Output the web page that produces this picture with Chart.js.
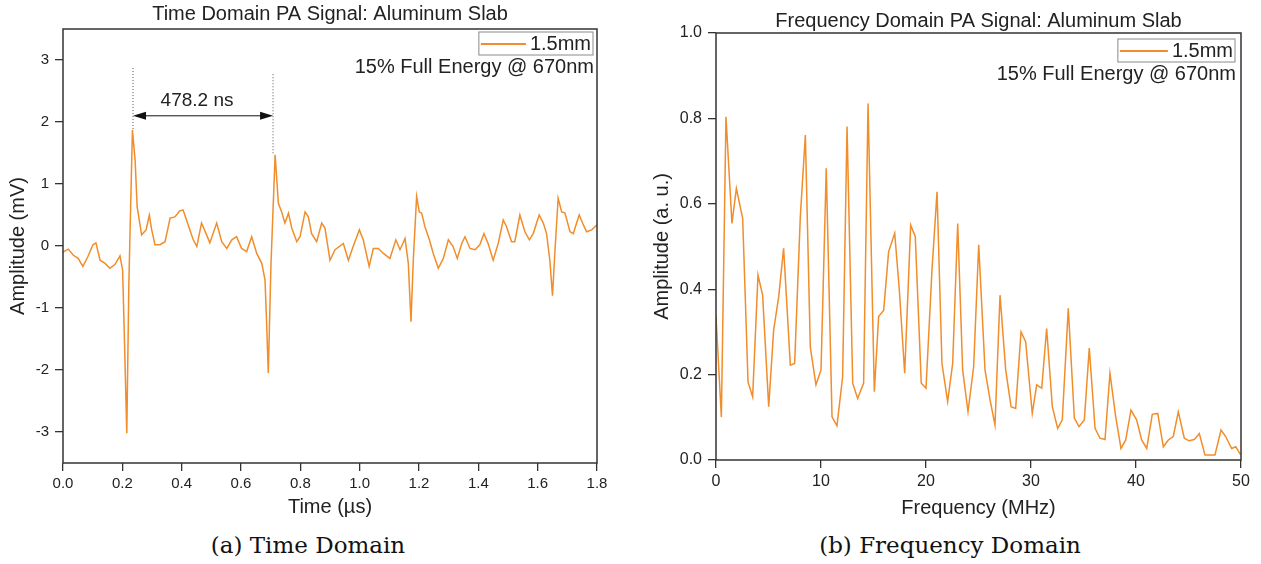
<!DOCTYPE html>
<html>
<head>
<meta charset="utf-8">
<script src="https://cdn.jsdelivr.net/npm/chart.js@4.4.2/dist/chart.umd.min.js"></script>
<style>
  body { margin: 0; background: #fff; }
  #page { position: relative; width: 1261px; height: 564px; overflow: hidden; }
  .panel { position: absolute; top: 0; }
  .caption {
    position: absolute; top: 530px; width: 400px; text-align: center;
    font: 23px "DejaVu Serif", "Liberation Serif", serif; color: #111; line-height: 30px;
  }
</style>
</head>
<body>
<div id="page">
  <div class="panel" style="left:0;width:630px;height:525px"><canvas id="timeChart" width="630" height="525"></canvas></div>
  <div class="panel" style="left:640px;width:621px;height:525px"><canvas id="freqChart" width="621" height="525"></canvas></div>
  <div class="caption" style="left:108px">(a) Time Domain</div>
  <div class="caption" style="left:750px">(b) Frequency Domain</div>
</div>
<script>
// time domain trace (µs, mV)
const timeUs = [
  0.000, 0.018, 0.035, 0.051, 0.067, 0.084, 0.101, 0.111, 0.125, 0.142,
  0.158, 0.175, 0.192, 0.201, 0.207, 0.215, 0.222, 0.234, 0.243, 0.250,
  0.265, 0.280, 0.291, 0.299, 0.310, 0.327, 0.344, 0.361, 0.377, 0.394,
  0.405, 0.422, 0.439, 0.451, 0.467, 0.484, 0.495, 0.518, 0.535, 0.552,
  0.569, 0.585, 0.602, 0.619, 0.636, 0.653, 0.670, 0.681, 0.686, 0.692,
  0.701, 0.715, 0.726, 0.737, 0.748, 0.760, 0.771, 0.788, 0.799, 0.816,
  0.827, 0.838, 0.855, 0.872, 0.883, 0.900, 0.917, 0.945, 0.962, 0.978,
  0.999, 1.012, 1.032, 1.046, 1.063, 1.080, 1.102, 1.122, 1.136, 1.153,
  1.164, 1.173, 1.181, 1.192, 1.201, 1.209, 1.220, 1.235, 1.248, 1.265,
  1.282, 1.299, 1.315, 1.329, 1.344, 1.355, 1.372, 1.389, 1.405, 1.419,
  1.433, 1.450, 1.467, 1.484, 1.495, 1.512, 1.523, 1.540, 1.557, 1.572,
  1.585, 1.605, 1.619, 1.630, 1.641, 1.650, 1.658, 1.669, 1.681, 1.692,
  1.709, 1.720, 1.740, 1.754, 1.765, 1.782, 1.793, 1.800
];
const amplitudeMv = [
  -0.10, -0.05, -0.15, -0.20, -0.33, -0.17, 0.02, 0.05, -0.23, -0.28,
  -0.36, -0.30, -0.16, -0.39, -1.50, -3.02, -0.60, 1.87, 1.39, 0.63,
  0.18, 0.26, 0.50, 0.26, 0.02, 0.02, 0.07, 0.45, 0.47, 0.57,
  0.58, 0.34, 0.10, -0.01, 0.37, 0.18, 0.05, 0.37, 0.07, -0.04,
  0.10, 0.15, -0.04, -0.09, 0.15, -0.12, -0.28, -0.55, -1.20, -2.05,
  -0.30, 1.47, 0.69, 0.55, 0.37, 0.53, 0.29, 0.07, 0.15, 0.55,
  0.47, 0.20, 0.07, 0.37, 0.29, -0.23, -0.06, 0.04, -0.23, -0.01,
  0.26, 0.10, -0.33, -0.04, -0.04, -0.12, -0.20, 0.10, -0.06, 0.12,
  -0.28, -1.22, -0.20, 0.80, 0.55, 0.53, 0.31, 0.10, -0.12, -0.36,
  -0.20, 0.10, -0.01, -0.20, 0.04, 0.15, -0.04, -0.06, 0.02, 0.20,
  0.04, -0.23, 0.04, 0.42, 0.31, 0.07, 0.07, 0.50, 0.23, 0.10,
  0.20, 0.50, 0.37, 0.20, -0.23, -0.80, -0.10, 0.77, 0.55, 0.53,
  0.23, 0.20, 0.50, 0.34, 0.23, 0.26, 0.31, 0.34
];

// spectrum (MHz, a.u.)
const freqMHz = [
  0, 0.51, 0.95, 1.52, 1.94, 2.54, 3.05, 3.49, 4.0, 4.44,
  5.02, 5.49, 5.97, 6.44, 7.08, 7.49, 8.03, 8.51, 8.98, 9.52,
  10.0, 10.5, 11.05, 11.52, 12.06, 12.48, 13.02, 13.49, 14.06, 14.48,
  15.08, 15.49, 15.97, 16.44, 17.02, 17.46, 17.97, 18.54, 18.98, 19.55,
  20.0, 20.57, 21.05, 21.52, 22.06, 22.54, 23.02, 23.49, 24.0, 24.54,
  25.02, 25.62, 26.1, 26.57, 27.05, 27.59, 28.1, 28.54, 29.05, 29.49,
  30.12, 30.54, 31.02, 31.49, 32.03, 32.54, 32.98, 33.55, 34.13, 34.57,
  35.08, 35.55, 36.1, 36.57, 37.05, 37.52, 38.07, 38.57, 39.02, 39.52,
  40.06, 40.54, 41.02, 41.55, 42.07, 42.6, 43.08, 43.55, 44.03, 44.6,
  45.05, 45.55, 46.03, 46.57, 47.05, 47.52, 48.1, 48.54, 49.11, 49.5,
  49.97
];
const ampAU = [
  0.336, 0.101, 0.804, 0.554, 0.636, 0.566, 0.183, 0.148, 0.433, 0.386,
  0.125, 0.304, 0.382, 0.496, 0.222, 0.226, 0.570, 0.761, 0.265, 0.176,
  0.211, 0.683, 0.101, 0.080, 0.195, 0.781, 0.180, 0.144, 0.180, 0.835,
  0.160, 0.336, 0.351, 0.488, 0.531, 0.398, 0.203, 0.550, 0.523, 0.180,
  0.168, 0.445, 0.628, 0.226, 0.137, 0.226, 0.554, 0.211, 0.113, 0.219,
  0.504, 0.211, 0.141, 0.082, 0.386, 0.211, 0.125, 0.121, 0.300, 0.277,
  0.109, 0.176, 0.168, 0.308, 0.125, 0.074, 0.094, 0.355, 0.098, 0.078,
  0.094, 0.262, 0.074, 0.051, 0.048, 0.203, 0.101, 0.027, 0.047, 0.117,
  0.094, 0.047, 0.027, 0.107, 0.109, 0.031, 0.047, 0.055, 0.113, 0.051,
  0.045, 0.048, 0.062, 0.012, 0.012, 0.012, 0.070, 0.055, 0.027, 0.031,
  0.012
];

const timeTicks = [0, 0.2, 0.4, 0.6, 0.8, 1.0, 1.2, 1.4, 1.6, 1.8];
const mvTicks = [-3, -2, -1, 0, 1, 2, 3];
const freqTicks = [0, 10, 20, 30, 40, 50];
const auTicks = [0, 0.2, 0.4, 0.6, 0.8, 1.0];

const seriesLabel = '1.5mm';
const noteText = '15% Full Energy @ 670nm';

// echo spacing marker on the time trace
const echoStartUs = 0.236;
const echoEndUs = 0.708;
const echoPeaksMv = [1.87, 1.47];
const delayLabel = '478.2 ns';

const LINE_COLOR = '#f18d2a';
const AXIS_COLOR = '#333';
const FONT = '"Liberation Sans", Arial, sans-serif';

const frameBox = {
  id: 'frameBox',
  afterDraw(chart) {
    const { ctx, chartArea: { left, top, right, bottom } } = chart;
    ctx.save();
    ctx.strokeStyle = AXIS_COLOR;
    ctx.lineWidth = 1.5;
    ctx.strokeRect(left, top, right - left, bottom - top);
    ctx.restore();
  }
};

const legendNote = {
  id: 'legendNote',
  afterDraw(chart, args, opts) {
    const { ctx, chartArea: { right, top } } = chart;
    ctx.save();
    ctx.font = `20px ${FONT}`;
    const textW = ctx.measureText(seriesLabel).width;
    const boxW = opts.sampleLength + 4 + textW + 4;
    const boxRight = right - opts.inset;
    const boxTop = top + opts.offset;
    ctx.strokeStyle = '#8a8a8a';
    ctx.lineWidth = 1;
    ctx.strokeRect(boxRight - boxW, boxTop, boxW, 23);
    ctx.strokeStyle = LINE_COLOR;
    ctx.lineWidth = 2;
    ctx.beginPath();
    ctx.moveTo(boxRight - boxW + 2, boxTop + 12);
    ctx.lineTo(boxRight - boxW + 2 + opts.sampleLength, boxTop + 12);
    ctx.stroke();
    ctx.fillStyle = '#222';
    ctx.textAlign = 'right';
    ctx.textBaseline = 'middle';
    ctx.fillText(seriesLabel, boxRight - 2, boxTop + 12);
    ctx.fillText(noteText, boxRight + 1, boxTop + 35);
    ctx.restore();
  }
};

const delayMarker = {
  id: 'delayMarker',
  afterDatasetsDraw(chart) {
    const { ctx, scales: { x, y } } = chart;
    const x1 = x.getPixelForValue(echoStartUs);
    const x2 = x.getPixelForValue(echoEndUs);
    const yArrow = y.getPixelForValue(2.1);
    ctx.save();
    ctx.strokeStyle = '#555';
    ctx.lineWidth = 1;
    ctx.setLineDash([1, 2]);
    ctx.beginPath();
    ctx.moveTo(x1, y.getPixelForValue(2.87));
    ctx.lineTo(x1, y.getPixelForValue(echoPeaksMv[0]));
    ctx.moveTo(x2, y.getPixelForValue(2.77));
    ctx.lineTo(x2, y.getPixelForValue(echoPeaksMv[1]));
    ctx.stroke();
    ctx.setLineDash([]);
    ctx.strokeStyle = '#111';
    ctx.beginPath();
    ctx.moveTo(x1 + 4, yArrow);
    ctx.lineTo(x2 - 4, yArrow);
    ctx.stroke();
    ctx.fillStyle = '#111';
    [[x1, 1], [x2, -1]].forEach(([px, dir]) => {
      ctx.beginPath();
      ctx.moveTo(px, yArrow);
      ctx.lineTo(px + dir * 13, yArrow - 4);
      ctx.lineTo(px + dir * 13, yArrow + 4);
      ctx.closePath();
      ctx.fill();
    });
    ctx.fillStyle = '#222';
    ctx.font = `19px ${FONT}`;
    ctx.textAlign = 'center';
    ctx.textBaseline = 'middle';
    ctx.fillText(delayLabel, (x1 + x2) / 2 - 6, y.getPixelForValue(2.35));
    ctx.restore();
  }
};

const axisStyle = (title, ticks, fmt, titlePad, fixedSize, horizontal, tickSize) => ({
  type: 'linear',
  min: ticks[0],
  max: ticks[ticks.length - 1],
  afterBuildTicks: scale => { scale.ticks = ticks.map(value => ({ value })); },
  afterFit: scale => {
    if (horizontal) scale.height = fixedSize; else scale.width = fixedSize;
  },
  border: { display: false },
  grid: { drawOnChartArea: false, drawTicks: true, tickLength: 8, color: AXIS_COLOR, lineWidth: 1.3 },
  ticks: {
    color: '#222',
    padding: horizontal ? 4 : 6,
    maxRotation: 0,
    font: { family: FONT, size: tickSize },
    callback: fmt
  },
  title: {
    display: true,
    text: title,
    color: '#222',
    font: { family: FONT, size: 20 },
    padding: horizontal ? { top: 0, bottom: titlePad } : { top: titlePad, bottom: 0 }
  }
});

const baseOptions = (titleText, titlePad, padRight) => ({
  responsive: false,
  animation: false,
  devicePixelRatio: 1,
  layout: { padding: { left: 0, right: padRight, top: 0, bottom: 0 } },
  plugins: {
    legend: { display: false },
    tooltip: { enabled: false },
    title: {
      display: true,
      text: titleText,
      fullSize: false,
      color: '#222',
      font: { family: FONT, size: 20, weight: 'normal' },
      padding: titlePad
    }
  }
});

const timeOptions = baseOptions('Time Domain PA Signal: Aluminum Slab', { top: 2, bottom: 3 }, 33);
timeOptions.scales = {
  x: axisStyle('Time (\u00b5s)', timeTicks, v => v.toFixed(1), 6, 62, true, 15),
  y: axisStyle('Amplitude (mV)', [-3.5, ...mvTicks, 3.5], v => String(v), 6, 63, false, 15)
};
timeOptions.scales.y.afterBuildTicks = scale => { scale.ticks = mvTicks.map(value => ({ value })); };
timeOptions.plugins.legendNote = { inset: 4, offset: 3, sampleLength: 45 };

new Chart(document.getElementById('timeChart'), {
  type: 'line',
  data: {
    datasets: [{
      label: seriesLabel,
      data: timeUs.map((t, i) => ({ x: t, y: amplitudeMv[i] })),
      borderColor: LINE_COLOR,
      borderWidth: 1.5,
      pointRadius: 0,
      tension: 0
    }]
  },
  options: timeOptions,
  plugins: [frameBox, legendNote, delayMarker]
});

const freqOptions = baseOptions('Frequency Domain PA Signal: Aluminum Slab', { top: 9, bottom: 0 }, 20);
freqOptions.scales = {
  x: axisStyle('Frequency (MHz)', freqTicks, v => String(v), 5, 65, true, 16),
  y: axisStyle('Amplitude (a. u.)', auTicks, v => v.toFixed(1), 10, 76, false, 16)
};
freqOptions.plugins.legendNote = { inset: 6, offset: 6, sampleLength: 48 };

new Chart(document.getElementById('freqChart'), {
  type: 'line',
  data: {
    datasets: [{
      label: seriesLabel,
      data: freqMHz.map((f, i) => ({ x: f, y: ampAU[i] })),
      borderColor: LINE_COLOR,
      borderWidth: 1.5,
      pointRadius: 0,
      tension: 0
    }]
  },
  options: freqOptions,
  plugins: [frameBox, legendNote]
});
</script>
</body>
</html>
